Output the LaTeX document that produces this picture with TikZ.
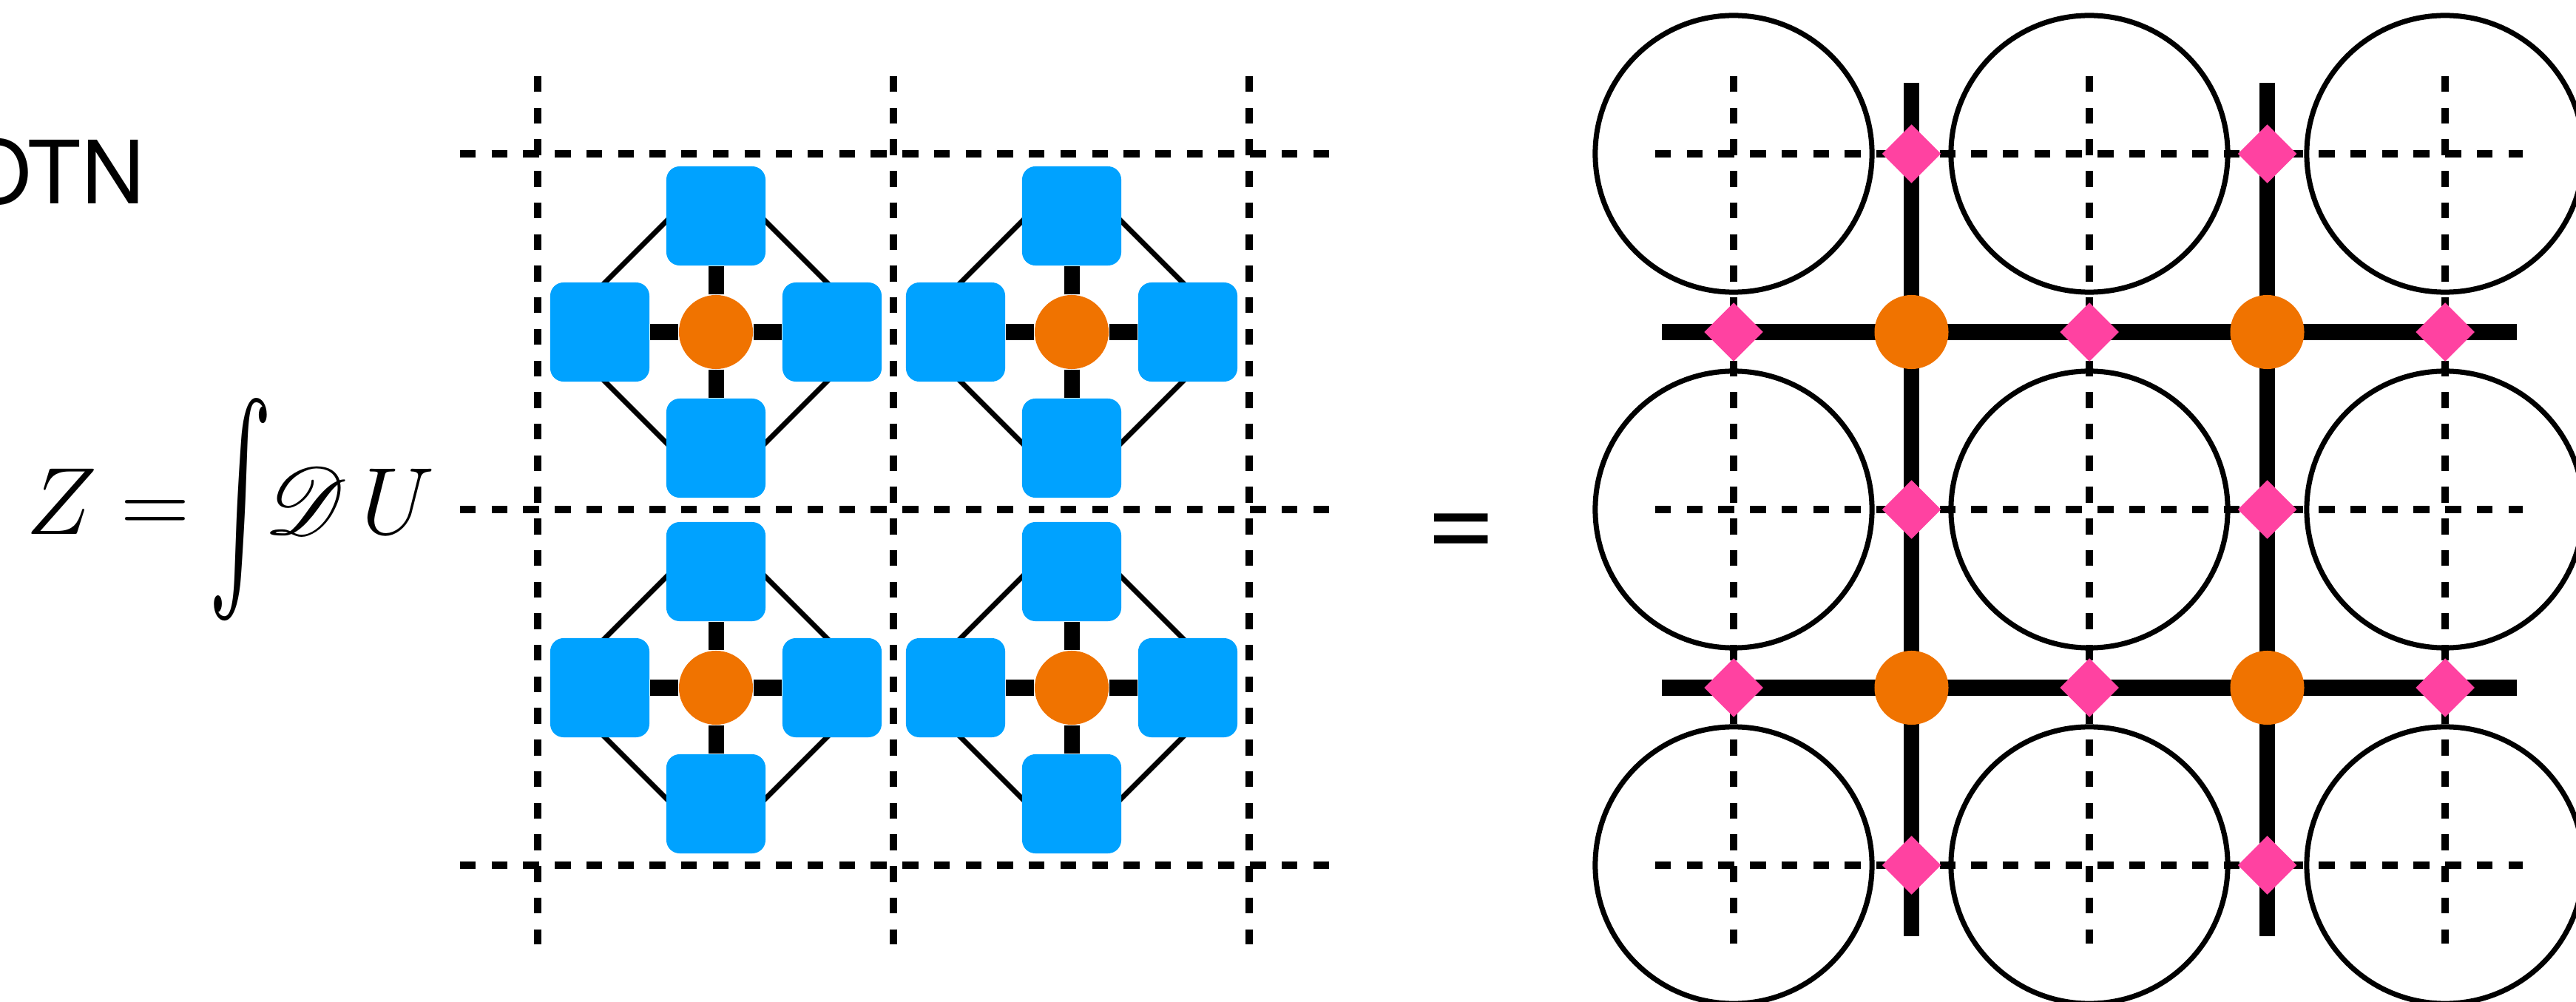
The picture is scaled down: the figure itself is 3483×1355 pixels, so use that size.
\documentclass[tikz,border=0pt]{standalone}
\usepackage{graphicx}
\usepackage{exscale}
\usepackage{fontspec}
\usepackage{mathrsfs}
\usetikzlibrary{shapes.geometric,calc}
\newfontfamily\heros{TeX Gyre Heros}
\definecolor{sqblue}{RGB}{0,162,255}
\definecolor{dotorange}{RGB}{240,115,0}
\definecolor{dpink}{RGB}{255,66,161}
\begin{document}
\begin{tikzpicture}[x=0.01cm,y=-0.01cm,
  gridline/.style={line width=0.1cm, dash pattern=on 0.214cm off 0.213cm},
  bond/.style={line width=0.21cm},
  thinbond/.style={line width=0.07cm},
  bluesq/.style={rectangle, fill=sqblue, minimum size=1.34cm, rounded corners=0.18cm, inner sep=0},
  odot/.style={circle, fill=dotorange, minimum size=1.0cm, inner sep=0},
  pdiam/.style={diamond, fill=dpink, minimum width=0.8cm, minimum height=0.8cm, inner sep=0},
  ring/.style={circle, draw, line width=0.07cm, minimum size=3.74cm, inner sep=0},
]
\useasboundingbox (0,0) rectangle (3483,1355);

% texts
\node[anchor=base east, inner sep=0, font=\heros\fontsize{33.6}{40}\selectfont] (title) at (196,276) {OTN};
\node[anchor=base west, inner sep=0, scale=1.77, transform shape] (zeq) at (34,723)
  {\fontsize{20.74}{25}\selectfont$Z\hspace{0.255em}\mathord{=}\hspace{0.2em}\raisebox{-0.26em}{\scalebox{1}[2.1]{$\int$}}\hspace{-0.09em}\mathscr{D}\hspace{0.15em}U$};
\node[anchor=base, inner sep=0, font=\heros\fontsize{46}{50}\selectfont] (eqsign) at (1976,755) {=};

% left dashed grid
\foreach \x in {727,1208,1689} {
  \coordinate (lvt\x) at (\x,103); \coordinate (lvb\x) at (\x,1277);
  \draw[gridline] (lvt\x) -- (lvb\x);
}
\foreach \y in {208,689,1170} {
  \coordinate (lhl\y) at (622,\y); \coordinate (lhr\y) at (1800,\y);
  \draw[gridline] (lhl\y) -- (lhr\y);
}

% left unit cells
\foreach \cx/\cy/\n in {968/449/a, 1449/449/b, 968/930/c, 1449/930/d} {
  \coordinate (dw\n) at (\cx-217,\cy);
  \coordinate (dn\n) at (\cx,\cy-217);
  \coordinate (de\n) at (\cx+217,\cy);
  \coordinate (ds\n) at (\cx,\cy+217);
  \draw[thinbond] (dw\n) -- (dn\n) -- (de\n) -- (ds\n) -- cycle;
  \node[odot] (o\n) at (\cx,\cy) {};
  \node[bluesq] (t\n) at (\cx,\cy-157) {};
  \node[bluesq] (b\n) at (\cx,\cy+157) {};
  \node[bluesq] (l\n) at (\cx-157,\cy) {};
  \node[bluesq] (r\n) at (\cx+157,\cy) {};
  \draw[bond] (o\n) -- (t\n);
  \draw[bond] (o\n) -- (b\n);
  \draw[bond] (o\n) -- (l\n);
  \draw[bond] (o\n) -- (r\n);
}

% right part: rings
\foreach \x [count=\i] in {2344,2825,3306} {
  \foreach \y [count=\j] in {208,689,1170} {
    \node[ring] (ring\i\j) at (\x,\y) {};
  }
}
% right dashed grid
\foreach \x [count=\i] in {2344,2825,3306} {
  \coordinate (rvt\i) at (\x,103); \coordinate (rvb\i) at (\x,1276);
  \draw[gridline] (rvt\i) -- (rvb\i);
}
\foreach \y [count=\j] in {208,689,1170} {
  \coordinate (rhl\j) at (2238,\y); \coordinate (rhr\j) at (3411,\y);
  \draw[gridline] (rhl\j) -- (rhr\j);
}
% thick bonds
\foreach \x [count=\i] in {2584.5,3065.5} {
  \coordinate (tvt\i) at (\x,112); \coordinate (tvb\i) at (\x,1266);
  \draw[bond] (tvt\i) -- (tvb\i);
}
\foreach \y [count=\j] in {449,930} {
  \coordinate (thl\j) at (2247,\y); \coordinate (thr\j) at (3403,\y);
  \draw[bond] (thl\j) -- (thr\j);
}
% orange dots
\foreach \x [count=\i] in {2584.5,3065.5} {
  \foreach \y [count=\j] in {449,930} {
    \node[odot] (ro\i\j) at (\x,\y) {};
  }
}
% pink diamonds
\foreach \x [count=\i] in {2584.5,3065.5} {
  \foreach \y [count=\j] in {208,689,1170} {
    \node[pdiam] (pv\i\j) at (\x,\y) {};
  }
}
\foreach \x [count=\i] in {2344,2825,3306} {
  \foreach \y [count=\j] in {449,930} {
    \node[pdiam] (ph\i\j) at (\x,\y) {};
  }
}
\end{tikzpicture}
\end{document}
